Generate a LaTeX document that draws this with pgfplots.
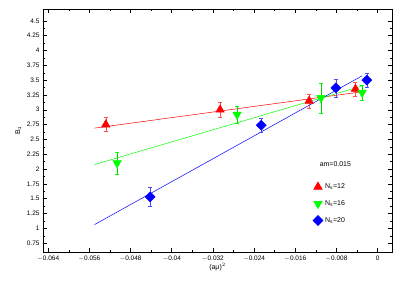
\documentclass[border=0pt]{standalone}
\usepackage{fontspec}
\setmainfont{Liberation Sans}
\usepackage{pgfplots}
\pgfplotsset{compat=1.18}
\begin{document}
\begin{tikzpicture}[x=1bp,y=1bp]
\begin{axis}[
  scale only axis,
  width=349bp, height=243bp,
  xmin=-0.065, xmax=0.0028,
  ymin=0.6, ymax=4.7,
  scaled x ticks=false, scaled y ticks=false,
  xtick={-0.064,-0.056,-0.048,-0.04,-0.032,-0.024,-0.016,-0.008,0},
  xticklabels={$-$0.064,$-$0.056,$-$0.048,$-$0.04,$-$0.032,$-$0.024,$-$0.016,$-$0.008,0},
  ytick={0.75,1,1.25,1.5,1.75,2,2.25,2.5,2.75,3,3.25,3.5,3.75,4,4.25,4.5},
  yticklabels={0.75,1,1.25,1.5,1.75,2,2.25,2.5,2.75,3,3.25,3.5,3.75,4,4.25,4.5},
  minor x tick num=1, minor y tick num=1,
  tick align=inside,
  major tick length=4bp, minor tick length=2bp,
  tick style={black, line width=0.4pt},
  axis line style={line width=0.8pt},
  tick label style={font=\fontsize{6.5}{7}\selectfont},
  /pgf/number format/assume math mode=true,
  xlabel={(aμ)$^2$},
  ylabel={B$_4$},
  label style={font=\fontsize{7}{8}\selectfont},
  xlabel style={yshift=4bp},
  ylabel style={yshift=-1bp},
  legend style={draw=none, fill=none, font=\fontsize{7}{8}\selectfont,
    at={(axis cs:-0.0126,1.79)}, anchor=north west, row sep=6.5bp,
    inner sep=0pt},
  legend cell align=left,
  legend image code/.code={\draw[#1] plot coordinates {(0bp,0bp)};},
]
% fit lines
\addplot[red, line width=0.5pt, forget plot] coordinates {(-0.055,2.69) (-0.003,3.304)};
\addplot[green, line width=0.5pt, forget plot] coordinates {(-0.055,2.076) (-0.003,3.40)};
\addplot[blue, line width=0.5pt, forget plot] coordinates {(-0.055,1.062) (-0.003,3.573)};
% data
\addplot[only marks, red, mark=triangle*, mark size=5pt,
  error bars/.cd, y dir=both, y explicit, error bar style={red!70, line width=0.4pt}, error mark options={rotate=90, mark size=2bp, red!70}]
  coordinates {
  (-0.0528,2.75) +- (0,0.12)
  (-0.0306,3.00) +- (0,0.13)
  (-0.0133,3.15) +- (0,0.12)
  (-0.0043,3.35) +- (0,0.12)
};
\addlegendentry{N$_\mathrm{s}$=12}
\addplot[only marks, green, mark=triangle*, mark size=5pt, mark options={rotate=180},
  error bars/.cd, y dir=both, y explicit, error bar style={green!70!black!60!green, line width=0.4pt}, error mark options={rotate=90, mark size=2bp, green}]
  coordinates {
  (-0.0506,2.10) +- (0,0.18)
  (-0.0273,2.92) +- (0,0.14)
  (-0.0110,3.20) +- (0,0.25)
  (-0.0030,3.29) +- (0,0.13)
};
\addlegendentry{N$_\mathrm{s}$=16}
\addplot[only marks, blue, mark=square*, mark size=3.6pt, mark options={rotate=45},
  error bars/.cd, y dir=both, y explicit, error bar style={blue!70, line width=0.4pt}, error mark options={rotate=90, mark size=2bp, blue!70}]
  coordinates {
  (-0.0442,1.53) +- (0,0.16)
  (-0.0226,2.74) +- (0,0.12)
  (-0.0081,3.37) +- (0,0.15)
  (-0.0021,3.50) +- (0,0.12)
};
\addlegendentry{N$_\mathrm{s}$=20}
\node[font=\fontsize{7}{8}\selectfont] at (axis cs:-0.0082,2.09) {am=0.015};
\end{axis}
\path (current axis.south west) ++(-43bp,-33bp) rectangle ++(407bp,285bp);
\end{tikzpicture}
\end{document}
